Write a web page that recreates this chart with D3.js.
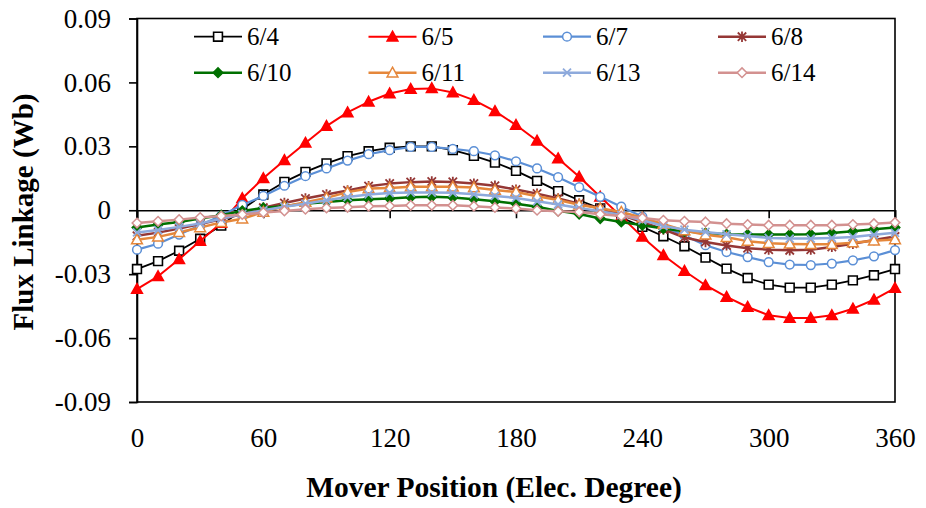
<!DOCTYPE html>
<html>
<head>
<meta charset="utf-8">
<script src="https://cdn.jsdelivr.net/npm/d3@7"></script>
<style>
  html, body { margin: 0; padding: 0; background: #ffffff; }
  svg { display: block; }
  text { font-family: "Liberation Serif", "Times New Roman", serif; fill: #000; }
</style>
</head>
<body>
<svg id="chart" width="926" height="508"></svg>
<script>
// Mover position, electrical degrees
const positions = [0,10,20,30,40,50,60,70,80,90,100,110,120,130,140,150,160,170,180,
                   190,200,210,220,230,240,250,260,270,280,290,300,310,320,330,340,350,360];

// Flux linkage (Wb) for each slot/pole combination
const flux_6_4  = [-0.0276,-0.0239,-0.019,-0.0134,-0.0072,0.0005,0.0074,0.0133,0.018,0.022,0.0254,0.0277,0.0293,0.030,0.030,0.0282,0.0255,0.0224,0.0185,
                   0.0138,0.009,0.0047,0.0008,-0.0034,-0.0078,-0.0122,-0.0169,-0.0222,-0.0274,-0.0318,-0.0349,-0.0363,-0.0363,-0.0349,-0.0329,-0.0305,-0.0276];
const flux_6_5  = [-0.037,-0.031,-0.023,-0.0144,-0.006,0.0056,0.015,0.0235,0.0316,0.0395,0.0459,0.0509,0.0548,0.0569,0.0572,0.0553,0.0517,0.0465,0.040,
                   0.0326,0.0243,0.0157,0.0063,-0.003,-0.0125,-0.0211,-0.0285,-0.0352,-0.0407,-0.0454,-0.0493,-0.0506,-0.0506,-0.0493,-0.0462,-0.042,-0.0365];
const flux_6_7  = [-0.0185,-0.0157,-0.0114,-0.007,-0.0025,0.0025,0.0067,0.0115,0.016,0.0196,0.0233,0.0263,0.0282,0.0297,0.0297,0.0288,0.0277,0.0258,0.023,
                   0.0196,0.0155,0.0108,0.0063,0.0017,-0.003,-0.0078,-0.0118,-0.0164,-0.0196,-0.022,-0.0243,-0.0255,-0.0257,-0.025,-0.0235,-0.0216,-0.0187];
const flux_6_8  = [-0.012,-0.0105,-0.0086,-0.0065,-0.0042,-0.0018,0.0012,0.0034,0.0055,0.0074,0.0093,0.0113,0.0125,0.0132,0.0135,0.0133,0.0125,0.0115,0.0097,
                   0.0078,0.0055,0.0031,0.0008,-0.0023,-0.0055,-0.009,-0.0128,-0.0149,-0.0165,-0.0178,-0.0185,-0.0188,-0.0185,-0.0172,-0.0157,-0.014,-0.0123];
const flux_6_10 = [-0.0081,-0.0067,-0.0055,-0.0039,-0.0023,-0.0003,0.0011,0.002,0.0031,0.0039,0.0047,0.0052,0.0055,0.0061,0.0063,0.006,0.0052,0.0042,0.0031,
                   0.0016,-0.0003,-0.0018,-0.0039,-0.0055,-0.007,-0.0086,-0.0099,-0.0107,-0.0113,-0.0114,-0.0114,-0.0114,-0.0113,-0.0107,-0.0099,-0.0089,-0.0081];
const flux_6_11 = [-0.0138,-0.0125,-0.0103,-0.0081,-0.0057,-0.004,-0.0008,0.0018,0.0038,0.0058,0.0085,0.0102,0.0105,0.011,0.011,0.011,0.0107,0.0095,0.0086,
                   0.0066,0.0048,0.0026,0.0009,-0.0008,-0.0035,-0.0065,-0.0095,-0.0115,-0.0127,-0.0145,-0.0155,-0.0158,-0.016,-0.016,-0.0152,-0.0143,-0.0137];
const flux_6_13 = [-0.0104,-0.0093,-0.0078,-0.0062,-0.004,-0.0018,0,0.0016,0.0031,0.0047,0.0062,0.0074,0.0081,0.0083,0.0083,0.0082,0.0075,0.0067,0.0058,
                   0.0042,0.0027,0.0011,-0.0005,-0.0022,-0.0047,-0.0074,-0.0091,-0.0102,-0.0113,-0.0121,-0.013,-0.0133,-0.0133,-0.013,-0.0125,-0.0115,-0.0106];
const flux_6_14 = [-0.006,-0.0052,-0.0044,-0.0034,-0.0027,-0.002,-0.0011,-0.0003,0.0005,0.0011,0.0014,0.0019,0.002,0.0023,0.0023,0.0023,0.0019,0.0013,0.0008,
                   0,-0.0005,-0.0008,-0.0019,-0.0027,-0.0036,-0.0047,-0.0052,-0.0055,-0.0063,-0.0067,-0.007,-0.007,-0.007,-0.007,-0.0067,-0.0063,-0.0058];

const seriesNames = ["6/4","6/5","6/7","6/8","6/10","6/11","6/13","6/14"];
const seriesValues = [flux_6_4, flux_6_5, flux_6_7, flux_6_8, flux_6_10, flux_6_11, flux_6_13, flux_6_14];

const xTicks = [0,60,120,180,240,300,360];
const yTicks = [-0.09,-0.06,-0.03,0,0.03,0.06,0.09];
const yTickLabels = ["-0.09","-0.06","-0.03","0","0.03","0.06","0.09"];

// Look of each series: colour, marker shape, marker fill, line width
const styles = [
  { color: "#000000", marker: "square",   filled: false, width: 1.8 },
  { color: "#ff0000", marker: "triangle", filled: true,  width: 2.0 },
  { color: "#5b8fd6", marker: "circle",   filled: false, width: 2.2 },
  { color: "#953735", marker: "star",     filled: false, width: 2.5 },
  { color: "#007000", marker: "diamond",  filled: true,  width: 2.5 },
  { color: "#e5873b", marker: "triangle", filled: false, width: 2.5 },
  { color: "#8eaadc", marker: "cross",    filled: false, width: 2.5 },
  { color: "#d39190", marker: "diamond",  filled: false, width: 2.5 }
];

const svg = d3.select("#chart");
const plot = { left: 137, right: 895, top: 18.5, bottom: 402 };

const x = d3.scaleLinear().domain([0, 360]).range([plot.left, plot.right]);
const y = d3.scaleLinear().domain([-0.09, 0.09]).range([plot.bottom, plot.top]);

// Marker path generators, centred on the origin
function markerPath(kind) {
  switch (kind) {
    case "square":   return "M-4.4,-4.4H4.4V4.4H-4.4Z";
    case "triangle": return "M0,-5.5L5.4,4.2L-5.4,4.2Z";
    case "circle":   return d3.symbol(d3.symbolCircle, 60)();
    case "diamond":  return "M0,-4.8L4.8,0L0,4.8L-4.8,0Z";
    case "star":     return "M-4.2,-4.2L4.2,4.2M-4.2,4.2L4.2,-4.2M0,-5.2V5.2";
    case "cross":    return "M-4,-4L4,4M-4,4L4,-4";
  }
}

function drawMarker(g, kind, style) {
  const open = !style.filled && (kind === "square" || kind === "triangle" || kind === "circle" || kind === "diamond");
  g.append("path")
    .attr("d", markerPath(kind))
    .attr("fill", style.filled ? style.color : (open ? "#ffffff" : "none"))
    .attr("stroke", style.color)
    .attr("stroke-width", kind === "square" ? 1.6 : (kind === "star" || kind === "cross" ? 1.8 : 1.5));
}

// Plot frame
svg.append("rect")
  .attr("x", plot.left).attr("y", plot.top)
  .attr("width", plot.right - plot.left).attr("height", plot.bottom - plot.top)
  .attr("fill", "none").attr("stroke", "#000").attr("stroke-width", 1.6);

// Y axis with outward ticks
const yAxis = svg.append("g")
  .attr("transform", `translate(${plot.left},0)`)
  .call(d3.axisLeft(y).tickValues(yTicks).tickSize(8).tickPadding(18)
        .tickFormat((d, i) => yTickLabels[i]));
yAxis.select(".domain").attr("stroke", "#000").attr("stroke-width", 1.6);
yAxis.selectAll(".tick line").attr("stroke", "#000").attr("stroke-width", 1.6);
yAxis.selectAll(".tick text").attr("font-size", 27).attr("font-family", "Liberation Serif");

// Horizontal axis line at zero with downward ticks
const zeroAxis = svg.append("g")
  .attr("transform", `translate(0,${y(0)})`)
  .call(d3.axisBottom(x).tickValues(xTicks).tickSize(8).tickFormat(""));
zeroAxis.select(".domain").attr("stroke", "#000").attr("stroke-width", 1.6);
zeroAxis.selectAll(".tick line").attr("stroke", "#000").attr("stroke-width", 1.6);

// Category labels along the bottom of the plot
const xLabels = svg.append("g")
  .attr("transform", `translate(0,${plot.bottom})`)
  .call(d3.axisBottom(x).tickValues(xTicks).tickSize(0).tickPadding(26).tickFormat(d3.format("d")));
xLabels.select(".domain").remove();
xLabels.selectAll(".tick text").attr("font-size", 27).attr("font-family", "Liberation Serif");

// Series lines and markers
const line = d3.line()
  .x((d, i) => x(positions[i]))
  .y(d => y(d));

seriesValues.forEach((vals, s) => {
  const st = styles[s];
  const g = svg.append("g").attr("class", "series");
  g.append("path")
    .attr("d", line(vals))
    .attr("fill", "none")
    .attr("stroke", st.color)
    .attr("stroke-width", st.width)
    .attr("stroke-linejoin", "round");
  vals.forEach((v, i) => {
    const mg = g.append("g").attr("transform", `translate(${x(positions[i])},${y(v)})`);
    drawMarker(mg, st.marker, st);
  });
});

// Legend: two rows of four entries
const legendCols = [194, 368.5, 543, 718];
const legendRows = [36.7, 72.7];
seriesNames.forEach((name, s) => {
  const st = styles[s];
  const cx = legendCols[s % 4];
  const cy = legendRows[Math.floor(s / 4)];
  const g = svg.append("g").attr("class", "legend-item");
  g.append("line")
    .attr("x1", cx).attr("x2", cx + 48)
    .attr("y1", cy).attr("y2", cy)
    .attr("stroke", st.color).attr("stroke-width", st.width);
  const mg = g.append("g").attr("transform", `translate(${cx + 24},${cy})`);
  drawMarker(mg, st.marker, st);
  g.append("text")
    .attr("x", cx + 53).attr("y", cy)
    .attr("dy", "0.34em")
    .attr("font-size", 25)
    .text(name);
});

// Axis titles
svg.append("text")
  .attr("transform", `translate(33,212) rotate(-90)`)
  .attr("text-anchor", "middle")
  .attr("font-size", 29)
  .attr("font-weight", "bold")
  .text("Flux Linkage (Wb)");

svg.append("text")
  .attr("x", 494).attr("y", 497)
  .attr("text-anchor", "middle")
  .attr("font-size", 29.5)
  .attr("font-weight", "bold")
  .text("Mover Position (Elec. Degree)");
</script>
</body>
</html>
